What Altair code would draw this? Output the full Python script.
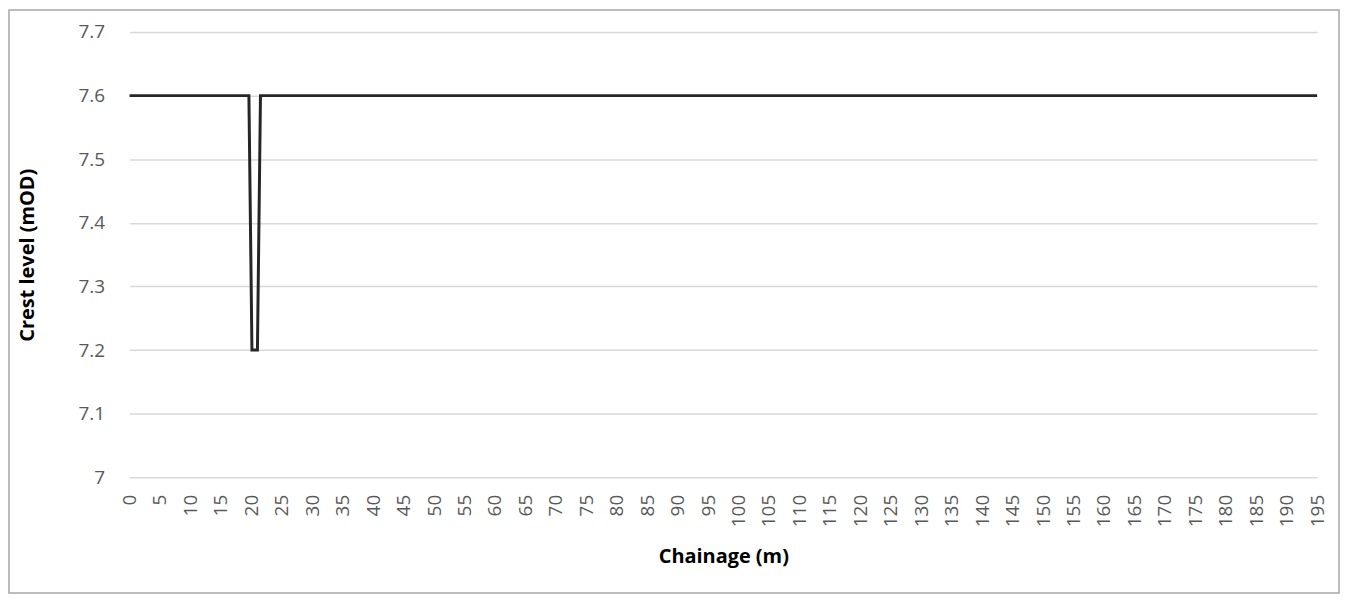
import altair as alt
import pandas as pd

chainage = [0, 19.6, 20.1, 21.0, 21.5, 195]
crest = [7.6, 7.6, 7.2, 7.2, 7.6, 7.6]
x_ticks = list(range(0, 200, 5))
y_ticks = [7.0, 7.1, 7.2, 7.3, 7.4, 7.5, 7.6, 7.7]

df = pd.DataFrame({"chainage": chainage, "crest": crest})

W, H = 1192, 447
PL, PT, PR, PB = 122, 23, 23, 117

line = alt.Chart(df).mark_line(color="#262626", strokeWidth=3, strokeJoin="miter").encode(
    x=alt.X("chainage:Q", title="Chainage (m)",
            scale=alt.Scale(domain=[0, 195], nice=False, zero=False),
            axis=alt.Axis(values=x_ticks, labelAngle=-90, labelAlign="right",
                          labelBaseline="middle", grid=False, domain=False, ticks=False,
                          labelPadding=17, titlePadding=20, labelOverlap=False,
                          labelFlush=False)),
    y=alt.Y("crest:Q", title="Crest level (mOD)",
            scale=alt.Scale(domain=[7.0, 7.7], nice=False, zero=False),
            axis=alt.Axis(values=y_ticks, format="~g", grid=True, domain=False,
                          ticks=False, labelPadding=25, titlePadding=41)),
)

border = alt.Chart(pd.DataFrame({"a": [0]})).mark_rect(
    fill=None, stroke="#a6a6a6", strokeWidth=1.5
).encode(
    x=alt.value(-PL + 1), x2=alt.value(W + PR - 1),
    y=alt.value(-PT + 1), y2=alt.value(H + PB - 1),
)

chart = alt.layer(border, line).properties(
    width=W, height=H,
    background="white",
    autosize=alt.AutoSizeParams(type="none"),
    padding={"left": PL, "top": PT, "right": PR, "bottom": PB},
).configure_view(stroke=None).configure_axis(
    labelFont="Open Sans", labelFontSize=19, labelColor="#595959",
    titleFont="Open Sans", titleFontSize=20, titleFontWeight="bold", titleColor="#000000",
    gridColor="#d9d9d9", gridWidth=1.5,
)

chart.save("out.html", embed_options={"renderer": "svg", "actions": False})
